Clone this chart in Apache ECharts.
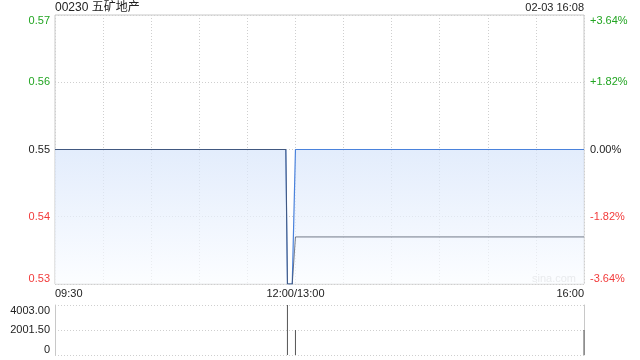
<!DOCTYPE html>
<html><head><meta charset="utf-8">
<script src="https://cdn.jsdelivr.net/npm/echarts@6/dist/echarts.min.js"></script>
<style>html,body{margin:0;padding:0;background:#fff}#c{width:640px;height:360px}</style>
</head><body><div id="c"></div>
<script>
const titleText = '00230 五矿地产';
const dateText = '02-03 16:08';
const prevClose = 0.55;
const priceIdx = [0, 144, 145, 148, 150, 330];
const priceVal = [0.55, 0.55, 0.53, 0.53, 0.55, 0.55];
const avgIdx = [0, 144, 145, 148, 150, 330];
const avgVal = [0.55, 0.55, 0.53, 0.53, 0.537, 0.537];
const volIdx = [145, 150, 330];
const volVal = [4003, 2000, 2000];
const xTickIdx = [0, 150, 330];
const xTickLabels = ['09:30', '12:00/13:00', '16:00'];
const priceMin = 0.53, priceMax = 0.57, priceStep = 0.01;
const volMax = 4003;

const FONT = '"Liberation Sans", Arial, "Noto Sans CJK SC", sans-serif';
const GREEN = '#22a522', RED = '#f23b3b', DARK = '#222';
function priceColor(v) {
  v = Number(v);
  if (Math.abs(v - prevClose) < 1e-6) return DARK;
  return v > prevClose ? GREEN : RED;
}
const priceData = priceIdx.map((x, i) => [x, priceVal[i]]);
const avgData = avgIdx.map((x, i) => [x, avgVal[i]]);
const volData = volIdx.map((x, i) => [x, volVal[i]]);

const chart = echarts.init(document.getElementById('c'), null, {renderer: 'canvas'});
const gridMain = {left: 55, right: 56, top: 15, height: 269, show: true, borderColor: '#c8c8c8', borderWidth: 1, backgroundColor: 'transparent', containLabel: false, outerBoundsMode: 'none'};
const gridVol = {left: 55, right: 56, top: 305, height: 50, containLabel: false, outerBoundsMode: 'none'};
const dotted = {show: true, lineStyle: {color: '#cfcfcf', type: [1, 2], width: 1}};

chart.setOption({
  animation: false,
  textStyle: {fontFamily: FONT},
  grid: [gridMain, gridVol],
  graphic: [
    {type: 'text', left: 55, top: 2, style: {text: titleText, font: '12px ' + FONT, fill: '#222'}},
    {type: 'text', right: 56, top: 2, style: {text: dateText, font: '11px ' + FONT, fill: '#222'}},
    {type: 'text', left: 532, top: 273, style: {text: 'sina.com', font: '11px ' + FONT, fill: '#c4c4c4'}}
  ],
  xAxis: [
    {type: 'value', gridIndex: 0, min: 0, max: 330, interval: 30,
     axisLine: {show: false}, axisTick: {show: false}, splitLine: dotted,
     axisLabel: {show: true, color: '#222', fontSize: 11, margin: 4, showMinLabel: true, showMaxLabel: true,
       alignMinLabel: 'left', alignMaxLabel: 'right',
       formatter: v => { const k = xTickIdx.indexOf(Math.round(v)); return k >= 0 ? xTickLabels[k] : ''; }}},
    {type: 'value', gridIndex: 1, min: 0, max: 330, interval: 30,
     axisLine: {show: false}, axisTick: {show: false}, splitLine: {show: false}, axisLabel: {show: false}}
  ],
  yAxis: [
    {type: 'value', gridIndex: 0, min: priceMin, max: priceMax, interval: priceStep, position: 'left',
     axisLine: {show: false}, axisTick: {show: false}, splitLine: dotted,
     axisLabel: {fontSize: 11, margin: 5, color: v => priceColor(v), showMinLabel: true, showMaxLabel: true,
       verticalAlignMinLabel: 'bottom', verticalAlignMaxLabel: 'top',
       formatter: v => Number(v).toFixed(2)}},
    {type: 'value', gridIndex: 0, min: priceMin, max: priceMax, interval: priceStep, position: 'right',
     axisLine: {show: false}, axisTick: {show: false}, splitLine: {show: false},
     axisLabel: {fontSize: 11, margin: 6, color: v => priceColor(v), showMinLabel: true, showMaxLabel: true,
       verticalAlignMinLabel: 'bottom', verticalAlignMaxLabel: 'top',
       formatter: v => { const p = (Number(v) - prevClose) / prevClose * 100; if (Math.abs(p) < 1e-6) return '0.00%'; return (p > 0 ? '+' : '') + p.toFixed(2) + '%'; }}},
    {type: 'value', gridIndex: 1, min: 0, max: volMax, interval: volMax / 2, position: 'left',
     axisLine: {show: true, lineStyle: {color: '#c8c8c8'}}, axisTick: {show: false}, splitLine: dotted,
     axisLabel: {fontSize: 11, margin: 5, color: '#222', showMinLabel: true, showMaxLabel: true,
       verticalAlignMinLabel: 'bottom', verticalAlignMaxLabel: 'top',
       formatter: v => Number(v) === 0 ? '0' : Number(v).toFixed(2)}},
    {type: 'value', gridIndex: 1, min: 0, max: volMax, interval: volMax / 2, position: 'right',
     axisLine: {show: true, lineStyle: {color: '#c8c8c8'}}, axisTick: {show: false}, splitLine: {show: false}, axisLabel: {show: false}}
  ],
  series: [
    {type: 'line', name: 'price', xAxisIndex: 0, yAxisIndex: 0, data: priceData, symbol: 'none',
     lineStyle: {color: '#4a82dc', width: 1.2},
     areaStyle: {origin: 'start', color: new echarts.graphic.LinearGradient(0, 0, 0, 1, [{offset: 0, color: 'rgba(214,228,250,1)'}, {offset: 1, color: 'rgba(250,252,255,1)'}])},
     z: 2},
    {type: 'line', name: 'avg', xAxisIndex: 0, yAxisIndex: 0, data: avgData, symbol: 'none',
     lineStyle: {color: '#3d4658', width: 1, opacity: 0.7}, z: 3}
    ,
    {type: 'bar', name: 'vol', xAxisIndex: 1, yAxisIndex: 2, data: volData, barWidth: 1,
     itemStyle: {color: '#555'}}
  ]
});
</script></body></html>
